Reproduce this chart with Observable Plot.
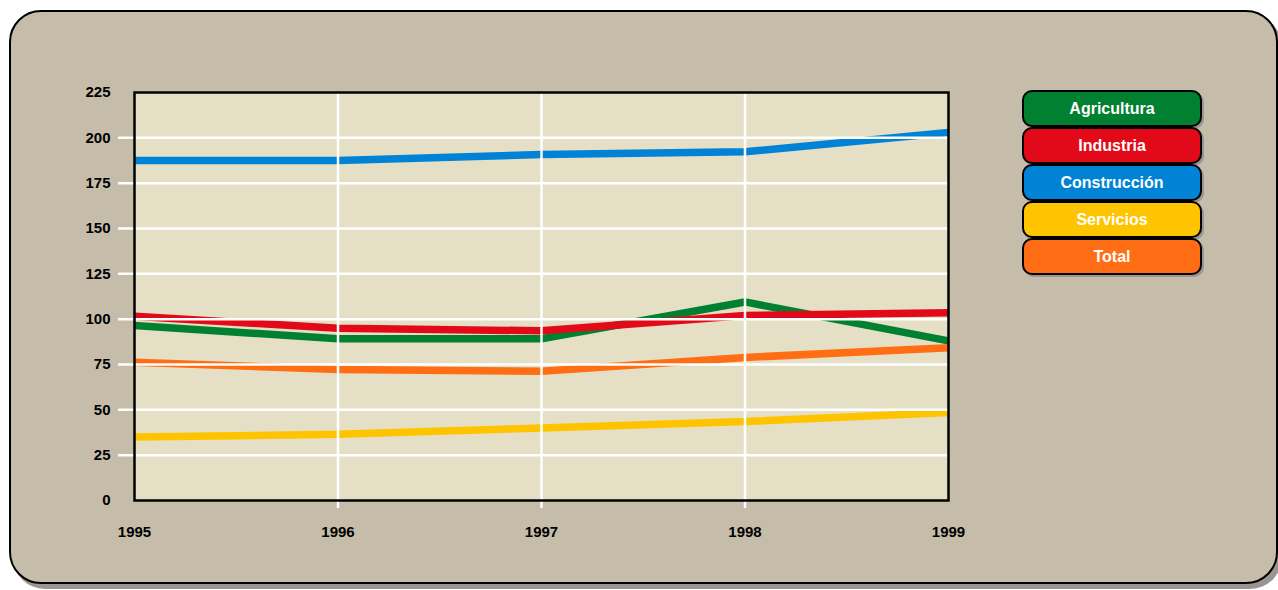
<!DOCTYPE html>
<html>
<head>
<meta charset="utf-8">
<script src="https://cdn.jsdelivr.net/npm/d3@7"></script>
<script src="https://cdn.jsdelivr.net/npm/@observablehq/plot@0.6"></script>
<style>
  html, body { margin: 0; padding: 0; background: #ffffff; }
  #wrap { position: relative; width: 1278px; height: 590px; overflow: hidden; font-family: "Liberation Sans", Arial, sans-serif; }
  #panel { position: absolute; left: 9px; top: 10px; width: 1265px; height: 570px; background: #c5bdaa; border: 2px solid #000; border-radius: 32px; box-shadow: 4px 5px 0 #9a9590; }
  #chart { position: absolute; left: 0; top: 0; }
  #legend { position: absolute; left: 1022px; top: 90px; width: 180px; }
  .item { box-sizing: border-box; height: 37px; margin-bottom: 0px; border: 2px solid #000; border-radius: 10px; color: #fff; font-weight: bold; font-size: 16px; display: flex; align-items: center; justify-content: center; box-shadow: 2px 2px 0 #9a9590; }
</style>
</head>
<body>
<div id="wrap">
  <div id="panel"></div>
  <div id="chart"></div>
  <div id="legend"></div>
</div>
<script>
const years = [1995, 1996, 1997, 1998, 1999];
const seriesNames = ["Agricultura", "Industria", "Construcción", "Servicios", "Total"];
const seriesColors = ["#008030", "#e20a18", "#0082d6", "#ffc400", "#ff6e14"];
const agricultura = [96.5, 89.2, 89.2, 109.5, 88];
const industria = [101.6, 95, 93.6, 102, 103.6];
const construccion = [187.5, 187.5, 190.8, 192.3, 203];
const servicios = [35, 36.5, 40, 43.5, 48.5];
const total = [76.3, 72.3, 71.3, 78.9, 84.2];
const yTicks = [0, 25, 50, 75, 100, 125, 150, 175, 200, 225];

const allValues = [agricultura, industria, construccion, servicios, total];
const data = [];
seriesNames.forEach((name, i) => {
  years.forEach((yr, j) => data.push({serie: name, year: yr, value: allValues[i][j]}));
});

const plot = Plot.plot({
  width: 1278,
  height: 590,
  marginLeft: 134,
  marginRight: 330,
  marginTop: 92,
  marginBottom: 90,
  style: { background: "transparent", fontFamily: "'Liberation Sans', Arial, sans-serif", fontSize: "15px", fontWeight: "bold", color: "#000" },
  x: { type: "linear", domain: [1995, 1999], ticks: years, tickFormat: d => String(d), tickSize: 0, tickPadding: 26, label: null },
  y: { domain: [0, 225], ticks: yTicks, tickSize: 0, tickPadding: 24, label: null },
  color: { domain: seriesNames, range: seriesColors },
  marks: [
    Plot.frame({ fill: "#e5e0c5" }),
    Plot.line(data, { x: "year", y: "value", z: "serie", stroke: "serie", strokeWidth: 7.5, strokeLinejoin: "miter", strokeLinecap: "butt" }),
    Plot.ruleY(yTicks.filter(d => d > 0 && d < 225), { stroke: "#fff", strokeWidth: 2.5, insetLeft: -16 }),
    Plot.ruleX(years.filter(d => d > 1995 && d < 1999), { stroke: "#fff", strokeWidth: 2.5, insetBottom: -8 }),
    Plot.frame({ stroke: "#000", strokeWidth: 2.5 }),
    Plot.axisY(yTicks, { tickSize: 0, tickPadding: 24, fontWeight: "bold", fontSize: 15 }),
    Plot.axisX(years, { tickSize: 0, tickPadding: 26, tickFormat: d => String(d), fontWeight: "bold", fontSize: 15 })
  ]
});
document.getElementById("chart").appendChild(plot);

const legend = document.getElementById("legend");
seriesNames.forEach((name, i) => {
  const el = document.createElement("div");
  el.className = "item";
  el.style.background = seriesColors[i];
  el.textContent = name;
  legend.appendChild(el);
});
</script>
</body>
</html>
